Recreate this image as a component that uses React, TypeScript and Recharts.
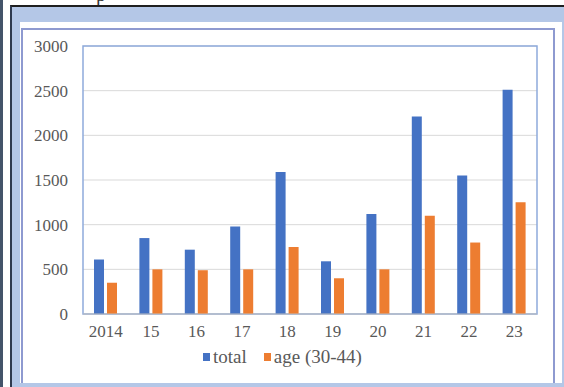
import { Bar, BarChart, CartesianGrid, ReferenceArea, XAxis, YAxis } from 'recharts';

const YEARS = ['2014', '15', '16', '17', '18', '19', '20', '21', '22', '23'];
const TOTAL = [610, 850, 720, 980, 1590, 590, 1120, 2210, 1550, 2510];
const AGE_30_44 = [350, 500, 490, 500, 750, 400, 500, 1100, 800, 1250];
const Y_TICKS = [0, 500, 1000, 1500, 2000, 2500, 3000];

const SERIES = [
  { key: 'total', label: 'total', color: '#4472C4' },
  { key: 'age', label: 'age (30-44)', color: '#ED7D31' }
];

const data = YEARS.map((year, i) => ({ year, total: TOTAL[i], age: AGE_30_44[i] }));

const serif = 'Liberation Serif, DejaVu Serif, serif';
const tickStyle = { fill: '#595959', fontSize: 17, fontFamily: serif };

export default function App() {
  return (
    <div style={{ position: 'absolute', left: 0, top: 0, width: 564, height: 387, overflow: 'hidden', background: '#fff' }}>
      {/* clipped text from the page above */}
      <span
        style={{ position: 'absolute', left: 96, top: -16, fontFamily: serif, fontSize: 20, lineHeight: '20px', color: '#333' }}
      >
        p
      </span>
      <div style={{ position: 'absolute', left: 0, top: 0, width: 3, height: 387, background: '#44546a' }} />
      <div
        style={{
          position: 'absolute',
          left: 10,
          top: 5,
          width: 560,
          height: 390,
          background: '#b4c7e7',
          borderTop: '2px solid #1f1f1f',
          borderLeft: '2px solid #2f3a4f'
        }}
      />
      <div style={{ position: 'absolute', left: 20, top: 22, width: 542, height: 361, background: '#fff', overflow: 'hidden' }}>
        <div
          style={{
            position: 'absolute',
            left: 1,
            top: 6,
            width: 530,
            height: 400,
            border: '2px solid #8e9ad0'
          }}
        />
      </div>

      <div style={{ position: 'absolute', left: 0, top: 0 }}>
        <BarChart
          width={564}
          height={387}
          data={data}
          margin={{ top: 46, right: 27, bottom: 43, left: 0 }}
          barSize={10}
          barGap={3}
        >
          <CartesianGrid vertical={false} stroke="#d9d9d9" />
          <XAxis
            dataKey="year"
            height={30}
            tick={tickStyle}
            tickLine={false}
            tickSize={0}
            tickMargin={11}
            axisLine={{ stroke: '#bfbfbf' }}
            interval={0}
          />
          <YAxis
            width={83}
            domain={[0, 3000]}
            ticks={Y_TICKS}
            tick={tickStyle}
            tickLine={false}
            tickSize={0}
            tickMargin={15}
            axisLine={false}
          />
          {SERIES.map((s) => (
            <Bar key={s.key} dataKey={s.key} fill={s.color} isAnimationActive={false} />
          ))}
          <ReferenceArea y1={0} y2={3000} fill="none" stroke="#8eaadb" strokeWidth={1.5} ifOverflow="visible" />
        </BarChart>
      </div>

      <div
        style={{
          position: 'absolute',
          left: 203,
          top: 347,
          display: 'flex',
          alignItems: 'center',
          fontFamily: serif,
          fontSize: 19,
          color: '#595959',
          lineHeight: '20px'
        }}
      >
        {SERIES.map((s, i) => (
          <div key={s.key} style={{ display: 'flex', alignItems: 'center', marginRight: i === 0 ? 17 : 0 }}>
            <span style={{ display: 'inline-block', width: 7, height: 8, background: s.color, marginRight: 3 }} />
            <span>{s.label}</span>
          </div>
        ))}
      </div>
    </div>
  );
}
